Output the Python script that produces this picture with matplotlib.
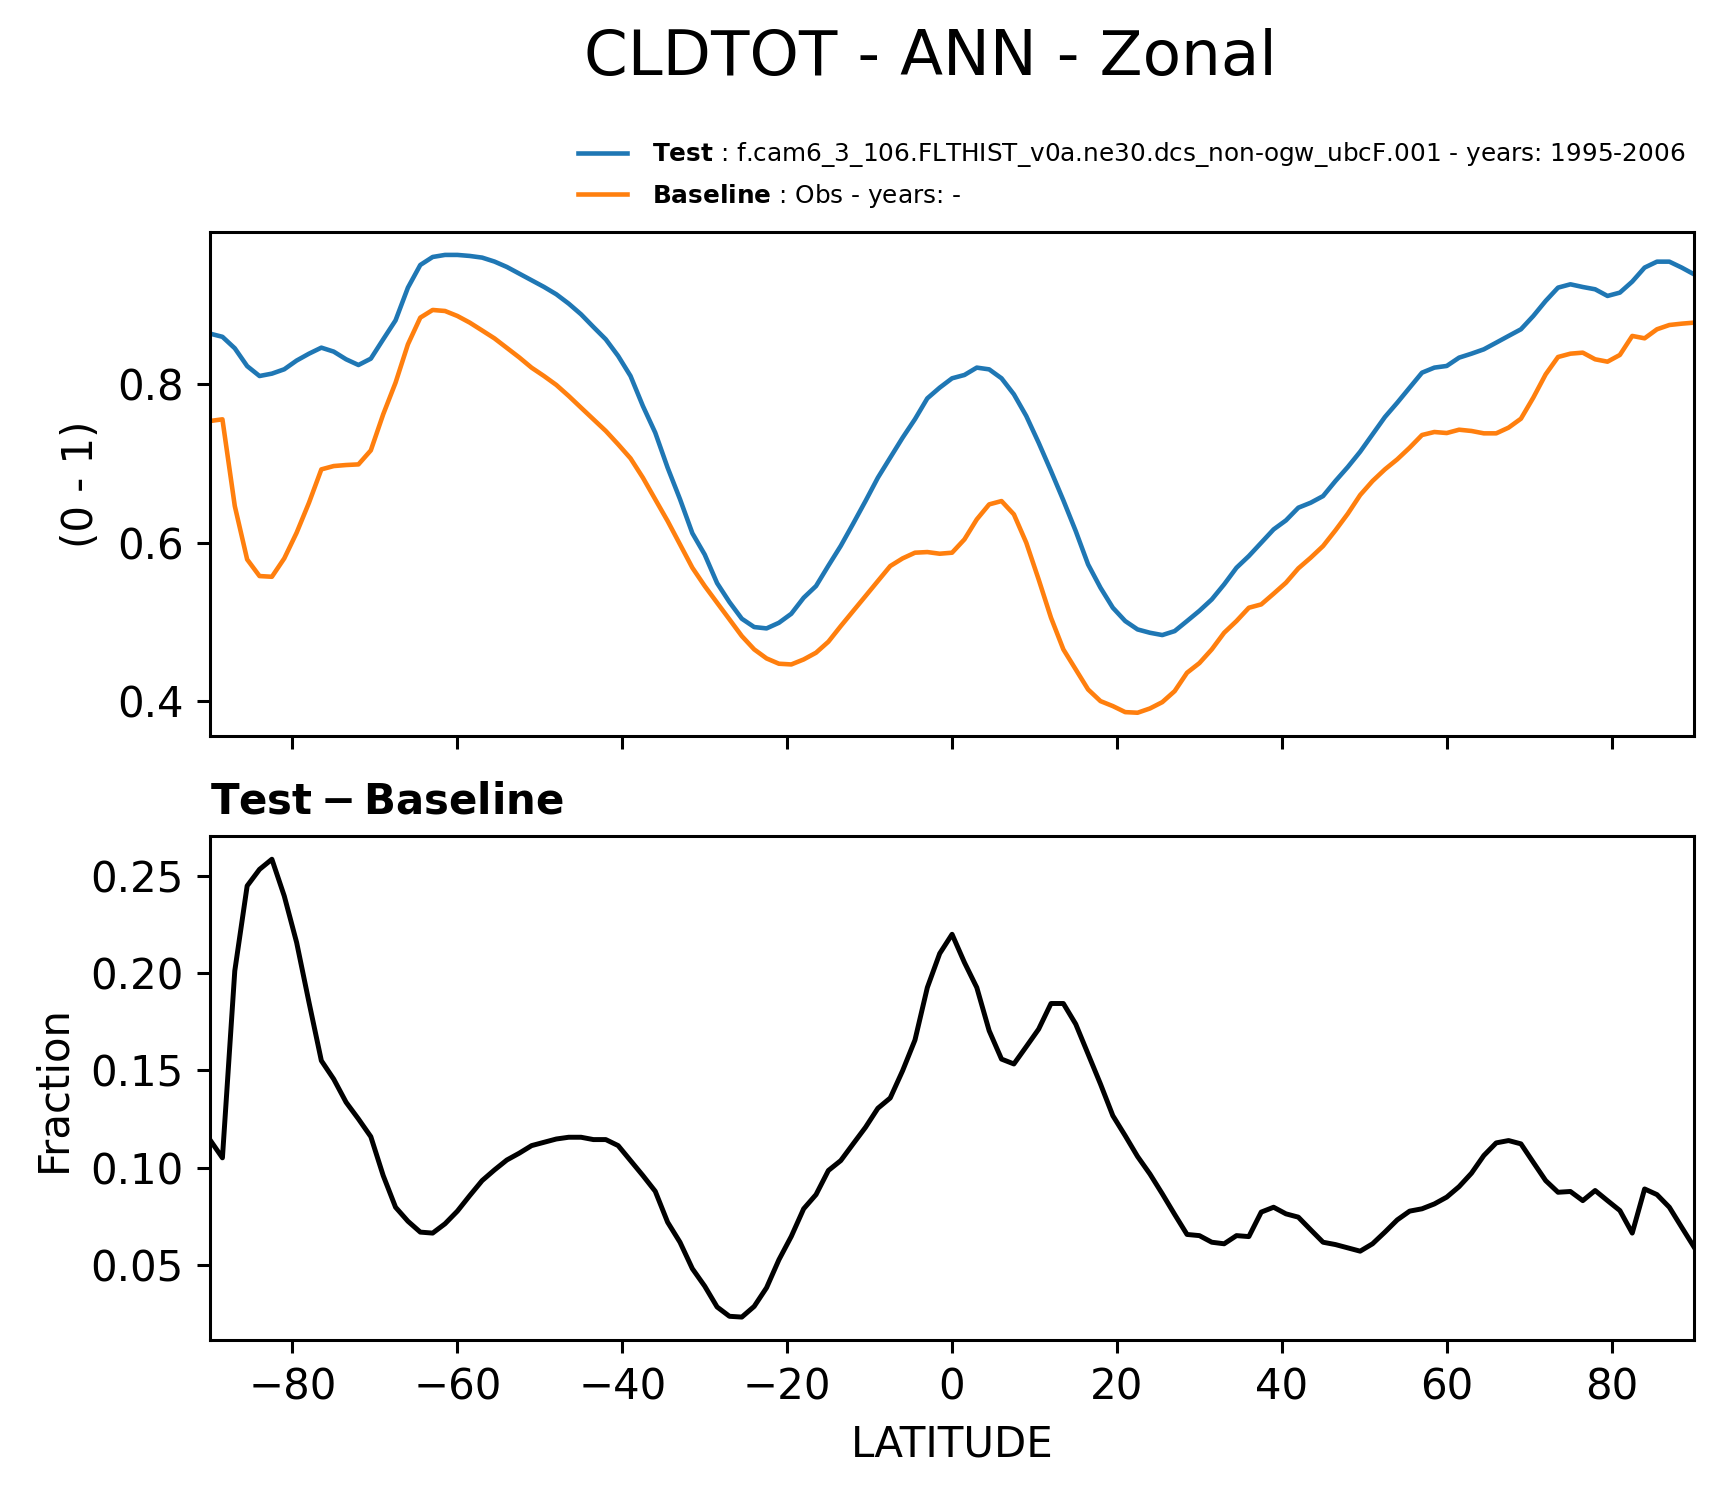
#!/usr/bin/env python3
"""Zonal-mean CLDTOT, test vs baseline, with the difference panel."""
import matplotlib

matplotlib.use("Agg")
import matplotlib.pyplot as plt
import numpy as np

# latitude grid (1.5 deg)
lat = np.arange(-90.0, 90.0 + 0.01, 1.5)

test_vals = [
    0.864, 0.860, 0.8455, 0.823, 0.8105, 0.8135, 0.819, 0.830, 0.8387, 0.8463,   # -90 .. -76.5
    0.8413, 0.8316, 0.8244, 0.8324, 0.8568, 0.8808, 0.9221, 0.9507, 0.9608, 0.9634,  # -75 .. -61.5
    0.9634, 0.9621, 0.960, 0.955, 0.9482, 0.9398, 0.9314, 0.923, 0.9137, 0.9019,  # -60 .. -46.5
    0.8884, 0.8724, 0.8568, 0.8358, 0.8105, 0.7726, 0.7389, 0.6947, 0.655, 0.612,  # -45 .. -31.5
    0.585, 0.549, 0.525, 0.504, 0.4935, 0.4918, 0.4989, 0.5103, 0.5305, 0.5453,  # -30 .. -16.5
    0.571, 0.596, 0.624, 0.6526, 0.6821, 0.7074, 0.7326, 0.756, 0.7823, 0.7958,  # -15 .. -1.5
    0.8076, 0.8118, 0.8211, 0.8189, 0.8076, 0.7874, 0.760, 0.7263, 0.6905, 0.6535,  # 0 .. 13.5
    0.6147, 0.5726, 0.5432, 0.5179, 0.5011, 0.4905, 0.4863, 0.4834, 0.4884, 0.5011,  # 15 .. 28.5
    0.514, 0.5284, 0.5474, 0.5684, 0.5832, 0.600, 0.6168, 0.6282, 0.6442, 0.6505,  # 30 .. 43.5
    0.6589, 0.6779, 0.6956, 0.7149, 0.7368, 0.7587, 0.7768, 0.7958, 0.8147, 0.8211,  # 45 .. 58.5
    0.8232, 0.8337, 0.8387, 0.8442, 0.8526, 0.8611, 0.8695, 0.8863, 0.9053, 0.9221,  # 60 .. 73.5
    0.9263, 0.9229, 0.920, 0.9116, 0.9158, 0.9297, 0.9474, 0.9549, 0.9549, 0.9474,  # 75 .. 88.5
    0.9389,  # 90
]

base_vals = [
    0.7537, 0.7558, 0.6463, 0.5789, 0.5579, 0.557, 0.5802, 0.6126, 0.6505, 0.6926,
    0.6968, 0.6981, 0.6989, 0.7166, 0.7621, 0.8021, 0.8505, 0.8842, 0.8939, 0.8926,
    0.8863, 0.8779, 0.868, 0.858, 0.846, 0.834, 0.821, 0.8105, 0.7992, 0.7853,
    0.7705, 0.7558, 0.7411, 0.7242, 0.7065, 0.6821, 0.6547, 0.6274, 0.5979, 0.5684,
    0.5453, 0.5242, 0.5032, 0.4821, 0.4653, 0.4539, 0.4472, 0.4463, 0.4526, 0.4611,
    0.475, 0.4947, 0.5137, 0.5326, 0.5516, 0.5705, 0.5802, 0.5874, 0.5882, 0.5861,
    0.5874, 0.6042, 0.6295, 0.6484, 0.6526, 0.6358, 0.600, 0.5537, 0.5053, 0.4653,
    0.440, 0.4147, 0.400, 0.3937, 0.3861, 0.3853, 0.3907, 0.3987, 0.4126, 0.4358,
    0.448, 0.4653, 0.4863, 0.5011, 0.5179, 0.5221, 0.5356, 0.5495, 0.5676, 0.5811,
    0.5958, 0.6156, 0.6366, 0.6602, 0.6779, 0.6926, 0.7053, 0.720, 0.736, 0.7398,
    0.7385, 0.7427, 0.7411, 0.7381, 0.7381, 0.7453, 0.7566, 0.7832, 0.8126, 0.8345,
    0.8387, 0.840, 0.8316, 0.8286, 0.8371, 0.8611, 0.8581, 0.8695, 0.8749, 0.8766,
    0.8779,
]

diff_vals = [
    0.1142, 0.1050, 0.2012, 0.2449, 0.2534, 0.2586, 0.2397, 0.2158, 0.185, 0.155,
    0.1455, 0.1336, 0.125, 0.1159, 0.0959, 0.0796, 0.0724, 0.0668, 0.0663, 0.0711,
    0.0776, 0.0856, 0.0933, 0.0988, 0.1039, 0.1074, 0.1113, 0.113, 0.1147, 0.1156,
    0.1156, 0.1144, 0.1144, 0.1113, 0.1036, 0.0959, 0.0878, 0.0719, 0.0616, 0.048,
    0.039, 0.0283, 0.0235, 0.0231, 0.0286, 0.0382, 0.0526, 0.0646, 0.0788, 0.0861,
    0.0985, 0.1036, 0.1122, 0.1207, 0.1305, 0.1358, 0.1498, 0.1656, 0.1926, 0.2101,
    0.220, 0.2055, 0.1926, 0.1704, 0.1558, 0.1533, 0.1622, 0.1712, 0.1844, 0.1844,
    0.1738, 0.1584, 0.143, 0.1267, 0.1164, 0.1057, 0.0967, 0.0865, 0.0759, 0.0656,
    0.065, 0.0616, 0.0608, 0.065, 0.0645, 0.0771, 0.0796, 0.0762, 0.0745, 0.068,
    0.0616, 0.0604, 0.0587, 0.057, 0.0608, 0.0668, 0.0731, 0.0776, 0.0788, 0.0813,
    0.0848, 0.0902, 0.0971, 0.1062, 0.1127, 0.1139, 0.1122, 0.1027, 0.0933, 0.0873,
    0.0877, 0.083, 0.0882, 0.083, 0.0779, 0.0663, 0.089, 0.0861, 0.0796, 0.0693,
    0.0591,
]

test_label = r"$\bf{Test}$ : f.cam6_3_106.FLTHIST_v0a.ne30.dcs_non-ogw_ubcF.001 - years: 1995-2006"
base_label = r"$\bf{Baseline}$ : Obs - years: -"

DPI = 274
FS = 11


def main():
    fig, (ax1, ax2) = plt.subplots(2, 1, sharex=True, figsize=(1726 / DPI, 1496 / DPI), dpi=DPI)
    fig.subplots_adjust(left=0.1217, right=0.9815, top=0.8449, bottom=0.1043, hspace=0.2)

    ax1.plot(lat, test_vals, color="#1f77b4", lw=1.2, label=test_label)
    ax1.plot(lat, base_vals, color="#ff7f0e", lw=1.2, label=base_label)
    ax1.set_ylabel("(0 - 1)", fontsize=FS)
    ax1.legend(loc="lower right", bbox_to_anchor=(1.009, 1.0), frameon=False,
               fontsize=6.5, handletextpad=1.0)
    ax1.tick_params(labelsize=FS)

    ax2.plot(lat, diff_vals, color="black", lw=1.3)
    ax2.set_title(r"$\bf{Test} - \bf{Baseline}$", loc="left", fontsize=FS)
    ax2.set_ylabel("Fraction", fontsize=FS)
    ax2.set_xlabel("LATITUDE", fontsize=FS)
    ax2.set_xlim(-90, 90)
    ax2.tick_params(labelsize=FS)

    fig.suptitle("CLDTOT - ANN - Zonal", x=0.539, y=0.981, fontsize=16.5)
    fig.savefig("out.png", dpi=DPI)
    plt.close(fig)


if __name__ == "__main__":
    main()
